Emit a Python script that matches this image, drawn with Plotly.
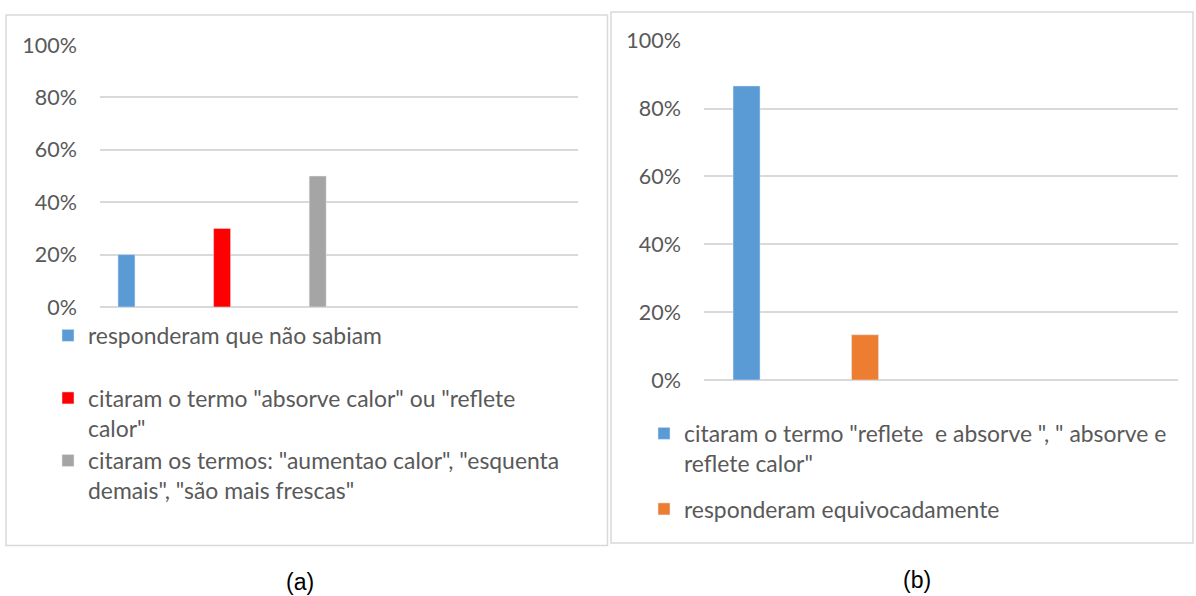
import plotly.graph_objects as go

W, H = 1196, 596

# ---- data (a)
cats_a = ["responderam que não sabiam",
          'citaram o termo "absorve calor" ou "reflete<br>calor"',
          'citaram os termos: "aumentao calor", "esquenta<br>demais", "são mais frescas"']
vals_a = [0.20, 0.30, 0.50]
pos_a = [0, 1, 2]
colors_a = ["#5B9BD5", "#FF0000", "#A5A5A5"]

# ---- data (b)
cats_b = ['citaram o termo "reflete  e absorve ", " absorve e<br>reflete calor"',
          "responderam equivocadamente"]
vals_b = [0.8667, 0.1333]
pos_b = [0, 1]
colors_b = ["#5B9BD5", "#ED7D31"]

yticks = [0, 0.2, 0.4, 0.6, 0.8, 1.0]

FONT = "Lato"
TXT = "#595959"
GRID = "#D9D9D9"

def px(x):
    return x / W

def py(y):
    return 1 - y / H

fig = go.Figure()
for name, v, p, c in zip(cats_a, vals_a, pos_a, colors_a):
    label = name if "<br>" in name else name + "<br> "
    fig.add_trace(go.Bar(x=[p], y=[v], name=label, marker_color=c,
                         width=0.178, offset=-0.312, xaxis="x", yaxis="y",
                         legend="legend", legendgroup=name, hoverinfo="skip"))
for name, v, p, c in zip(cats_b, vals_b, pos_b, colors_b):
    fig.add_trace(go.Bar(x=[p], y=[v], name=name, marker_color=c,
                         width=0.228, offset=-0.255, xaxis="x2", yaxis="y2",
                         legend="legend2", legendgroup=name, hoverinfo="skip"))

yax = dict(range=[0, 1], tickvals=yticks, tickformat=".0%", showgrid=True,
           gridcolor=GRID, gridwidth=1.5, zeroline=True, zerolinecolor=GRID,
           zerolinewidth=1.5, showline=False, ticks="", automargin=False,
           tickfont=dict(family=FONT, size=21.5, color=TXT), ticklabelstandoff=22,
           fixedrange=True)
xax = dict(showticklabels=False, showgrid=False, zeroline=False, ticks="",
           automargin=False, fixedrange=True)

fig.update_layout(
    width=W, height=H, margin=dict(l=0, r=0, t=0, b=0, pad=0, autoexpand=False),
    paper_bgcolor="white", plot_bgcolor="white", barmode="overlay",
    font=dict(family=FONT, color=TXT),
    xaxis=dict(domain=[px(100), px(578)], range=[-0.5, 4.5], **xax),
    yaxis=dict(domain=[py(307), py(45)], anchor="x", **yax),
    xaxis2=dict(domain=[px(704), px(1178)], range=[-0.5, 3.5], anchor="y2", **xax),
    yaxis2=dict(domain=[py(380), py(40.7)], anchor="x2", **yax),
    legend=dict(x=px(48), y=py(314), xanchor="left", yanchor="top",
                font=dict(family=FONT, size=22.9, color=TXT), valign="top",
                bgcolor="rgba(0,0,0,0)", traceorder="normal"),
    legend2=dict(x=px(644), y=py(412), xanchor="left", yanchor="top",
                 font=dict(family=FONT, size=22.9, color=TXT), valign="top",
                 tracegroupgap=13, bgcolor="rgba(0,0,0,0)", traceorder="grouped"),
    showlegend=True,
)

# panel borders
fig.add_shape(type="rect", xref="paper", yref="paper",
              x0=px(6), x1=px(607.5), y0=py(545.5), y1=py(15),
              line=dict(color=GRID, width=1.5), layer="below")
fig.add_shape(type="rect", xref="paper", yref="paper",
              x0=px(611), x1=px(1193), y0=py(543), y1=py(12),
              line=dict(color=GRID, width=1.5), layer="below")

# captions
fig.add_annotation(text="(a)", x=px(300), y=py(582), xref="paper", yref="paper",
                   xanchor="center", yanchor="middle",
                   showarrow=False, font=dict(family="Liberation Sans", size=23, color="#000000"))
fig.add_annotation(text="(b)", x=px(917), y=py(580), xref="paper", yref="paper",
                   xanchor="center", yanchor="middle",
                   showarrow=False, font=dict(family="Liberation Sans", size=23, color="#000000"))

pin = ("document.documentElement.style.margin='0';document.body.style.margin='0';"
       "var d=document.getElementById('{plot_id}');d.style.position='fixed';"
       "d.style.top='0px';d.style.left='0px';")
fig.write_html("out.html", post_script=pin, config={"displayModeBar": False})
